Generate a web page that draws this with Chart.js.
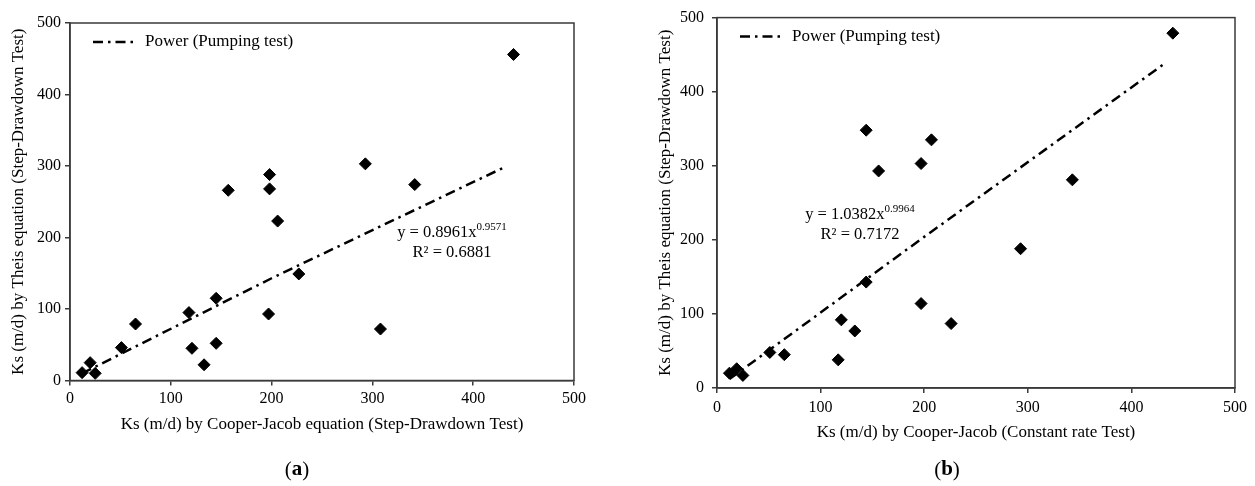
<!DOCTYPE html>
<html>
<head>
<meta charset="utf-8">
<script src="https://cdn.jsdelivr.net/npm/chart.js@4.4.0/dist/chart.umd.min.js"></script>
<style>
  body { margin: 0; background: #fff; width: 1255px; height: 486px; overflow: hidden; }
  canvas { position: absolute; top: 0; }
  #chartA { left: 0; }
  #chartB { left: 627px; }
</style>
</head>
<body>
<canvas id="chartA" width="627" height="486"></canvas>
<canvas id="chartB" width="628" height="486"></canvas>
<script>
// tick labels (both axes, both panels)
const axisTicks = [0, 100, 200, 300, 400, 500];

// (a) Cooper-Jacob step-drawdown vs Theis
const ksCooperStep = [12, 20, 25, 51, 65, 118, 121, 133, 145, 145, 157, 198, 198, 206, 197, 227, 293, 342, 308, 440];
const ksTheisA     = [11, 25, 10, 46, 79, 95, 45, 22, 115, 52, 266, 288, 268, 223, 93, 149, 303, 274, 72, 456];
const trendAx = [12, 200, 432];
const trendAy = [10, 143, 299];

// (b) Cooper-Jacob constant rate vs Theis
const ksCooperConst = [12, 19, 25, 51, 65, 117, 120, 133, 144, 144, 156, 197, 207, 197, 226, 293, 343, 440];
const ksTheisB      = [20, 26, 17, 48, 45, 38, 92, 77, 143, 348, 293, 303, 335, 114, 87, 188, 281, 479];
const trendBx = [12, 200, 434];
const trendBy = [12, 204, 440];

const trendLabel = 'Power (Pumping test)';
const eqA = ['y = 0.8961x', '0.9571', 'R² = 0.6881'];
const eqB = ['y = 1.0382x', '0.9964', 'R² = 0.7172'];

const FONT = '"Liberation Serif", "Times New Roman", serif';
const INK = '#000';
const FRAME = '#3a3a3a';

function toPoints(xs, ys) {
  return xs.map((x, i) => ({ x: x, y: ys[i] }));
}

const extras = {
  id: 'extras',
  afterDraw(chart, args, opts) {
    const ctx = chart.ctx;
    const a = chart.chartArea;
    ctx.save();
    // frame round the plot
    ctx.strokeStyle = FRAME;
    ctx.lineWidth = 1.5;
    ctx.strokeRect(a.left, a.top, a.right - a.left, a.bottom - a.top);

    // legend entry for the trend line
    const trend = chart.data.datasets[1];
    ctx.beginPath();
    ctx.setLineDash(trend.borderDash);
    ctx.lineWidth = trend.borderWidth;
    ctx.strokeStyle = trend.borderColor;
    ctx.moveTo(a.left + opts.legend[0], a.top + opts.legend[1]);
    ctx.lineTo(a.left + opts.legend[0] + 41, a.top + opts.legend[1]);
    ctx.stroke();
    ctx.setLineDash([]);
    ctx.fillStyle = INK;
    ctx.font = '17px ' + FONT;
    ctx.textBaseline = 'middle';
    ctx.textAlign = 'left';
    ctx.fillText(trend.label, a.left + opts.legend[0] + 52, a.top + opts.legend[1]);

    // fitted equation
    const eq = opts.eq;
    const [cx, cy] = opts.eqPos;
    ctx.font = '16.5px ' + FONT;
    const w1 = ctx.measureText(eq[0]).width;
    ctx.font = '11px ' + FONT;
    const w2 = ctx.measureText(eq[1]).width;
    let x0 = cx - (w1 + w2) / 2;
    ctx.font = '16.5px ' + FONT;
    ctx.fillText(eq[0], x0, cy);
    ctx.font = '11px ' + FONT;
    ctx.fillText(eq[1], x0 + w1, cy - 6);
    ctx.font = '16.5px ' + FONT;
    ctx.textAlign = 'center';
    ctx.fillText(eq[2], cx, cy + 20);

    // panel label "(a)" with bold letter
    const [px, py] = opts.panelPos;
    ctx.textAlign = 'left';
    ctx.font = '21px ' + FONT;
    const pw = ctx.measureText('(').width;
    const cw = ctx.measureText(')').width;
    ctx.font = 'bold 21px ' + FONT;
    const lw = ctx.measureText(opts.panel).width;
    const start = px - (pw + lw + cw) / 2;
    ctx.font = '21px ' + FONT;
    ctx.fillText('(', start, py);
    ctx.font = 'bold 21px ' + FONT;
    ctx.fillText(opts.panel, start + pw, py);
    ctx.font = '21px ' + FONT;
    ctx.fillText(')', start + pw + lw, py);
    ctx.restore();
  }
};

function makeChart(id, cfg) {
  const ctx = document.getElementById(id).getContext('2d');
  return new Chart(ctx, {
    data: {
      datasets: [{
        type: 'scatter',
        label: 'data',
        data: toPoints(cfg.xs, cfg.ys),
        pointStyle: 'rectRot',
        pointRadius: 6,
        pointBorderWidth: 1,
        pointBackgroundColor: INK,
        pointBorderColor: INK,
        order: 1
      }, {
        type: 'line',
        label: trendLabel,
        data: toPoints(cfg.tx, cfg.ty),
        borderColor: INK,
        borderWidth: 2.5,
        borderDash: [10, 5, 2.5, 5],
        pointRadius: 0,
        fill: false,
        tension: 0,
        order: 2
      }]
    },
    options: {
      responsive: false,
      animation: false,
      layout: { padding: { top: cfg.top, right: cfg.right, bottom: 0, left: 0 } },
      plugins: {
        legend: { display: false },
        tooltip: { enabled: false },
        extras: { legend: [23, 19], eq: cfg.eq, eqPos: cfg.eqPos, panel: cfg.panel, panelPos: cfg.panelPos }
      },
      scales: {
        x: {
          type: 'linear',
          min: 0, max: 500,
          afterBuildTicks: s => { s.ticks = axisTicks.map(v => ({ value: v })); },
          afterFit: s => { s.height = cfg.xHeight; },
          grid: { drawOnChartArea: false, drawTicks: true, tickLength: 5, color: FRAME, lineWidth: 1.5 },
          border: { display: true, color: FRAME, width: 1.5 },
          ticks: { color: INK, font: { family: FONT, size: 16 }, padding: cfg.xPad, maxRotation: 0 },
          title: { display: true, text: cfg.xTitle, color: INK, font: { family: FONT, size: 17 }, padding: { top: 0, bottom: cfg.xTitlePad } }
        },
        y: {
          type: 'linear',
          min: 0, max: 500,
          afterBuildTicks: s => { s.ticks = axisTicks.map(v => ({ value: v })); },
          afterFit: s => { s.width = cfg.yWidth; },
          grid: { drawOnChartArea: false, drawTicks: true, tickLength: 5, color: FRAME, lineWidth: 1.5 },
          border: { display: true, color: FRAME, width: 1.5 },
          ticks: { color: INK, font: { family: FONT, size: 16 }, padding: cfg.yPad },
          title: { display: true, text: 'Ks (m/d) by Theis equation (Step-Drawdown Test)', color: INK, font: { family: FONT, size: 17 }, padding: { top: cfg.yTitlePad, bottom: 0 } }
        }
      }
    },
    plugins: [extras]
  });
}

makeChart('chartA', {
  xs: ksCooperStep, ys: ksTheisA, tx: trendAx, ty: trendAy,
  top: 23, right: 53, xHeight: 105.5, yWidth: 70,
  xPad: 4, yPad: 4, xTitlePad: 51, yTitlePad: 8,
  xTitle: 'Ks (m/d) by Cooper-Jacob equation (Step-Drawdown Test)',
  eq: eqA, eqPos: [452, 233], panel: 'a', panelPos: [297, 470]
});

makeChart('chartB', {
  xs: ksCooperConst, ys: ksTheisB, tx: trendBx, ty: trendBy,
  top: 16, right: 20, xHeight: 98, yWidth: 90,
  xPad: 5, yPad: 8, xTitlePad: 43, yTitlePad: 28,
  xTitle: 'Ks (m/d) by Cooper-Jacob (Constant rate Test)',
  eq: eqB, eqPos: [233, 215], panel: 'b', panelPos: [320, 470]
});
</script>
</body>
</html>
